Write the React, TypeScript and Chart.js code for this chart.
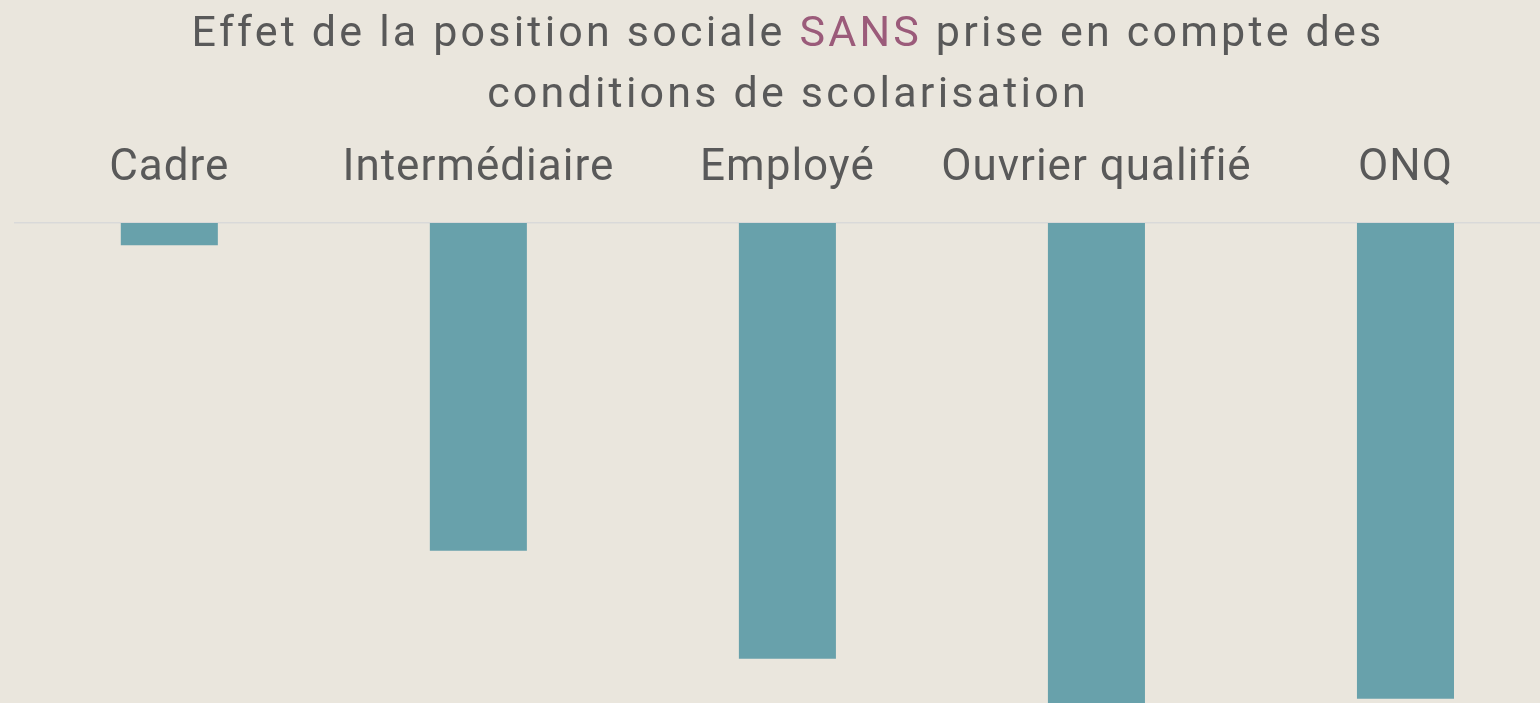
import React, { useEffect, useRef } from "react";
import { Chart, registerables } from "chart.js";

Chart.register(...registerables);

const categories = ["Cadre", "Intermédiaire", "Employé", "Ouvrier qualifié", "ONQ"];
const effectValues = [-0.047, -0.696, -0.925, -1.03, -1.01];
const titleLine1 = ["Effet de la position sociale ", "SANS", " prise en compte des"];
const titleLine2 = "conditions de scolarisation";

const BG = "#EAE6DD";
const TEXT = "#595959";
const ACCENT = "#9B5B7A";
const BAR = "#68A1AB";
const FONT = "Roboto, 'Liberation Sans', sans-serif";

const titlePlugin = {
  id: "customTitle",
  beforeDraw(chart: any) {
    const ctx = chart.ctx;
    ctx.save();
    ctx.fillStyle = BG;
    ctx.fillRect(0, 0, chart.width, chart.height);
    ctx.restore();
    (ctx as any).letterSpacing = "1px";
  },
  afterDraw(chart: any) {
    const ctx = chart.ctx;
    ctx.save();
    (ctx as any).letterSpacing = "3.2px";
    ctx.font = `43px ${FONT}`;
    ctx.textBaseline = "alphabetic";
    ctx.textAlign = "left";
    const cx = 788;
    const widths = titleLine1.map((s) => ctx.measureText(s).width);
    const total = widths.reduce((a, b) => a + b, 0);
    let x = cx - total / 2;
    titleLine1.forEach((s, i) => {
      ctx.fillStyle = i === 1 ? ACCENT : TEXT;
      ctx.fillText(s, x, 46);
      x += widths[i];
    });
    ctx.textAlign = "center";
    ctx.fillStyle = TEXT;
    ctx.fillText(titleLine2, cx, 107);
    ctx.restore();
  },
};

export default function App() {
  const ref = useRef<HTMLCanvasElement>(null);
  useEffect(() => {
    document.body.style.margin = "0";
    const chart = new Chart(ref.current!, {
      type: "bar",
      data: {
        labels: categories,
        datasets: [
          {
            data: effectValues,
            backgroundColor: BAR,
            borderWidth: 0,
            categoryPercentage: 0.314,
            barPercentage: 1,
          },
        ],
      },
      options: {
        animation: false,
        responsive: false,
        layout: { padding: { left: 14.8, right: 0, top: 0, bottom: 0 } },
        plugins: { legend: { display: false }, tooltip: { enabled: false }, title: { display: false } },
        scales: {
          x: {
            position: "top",
            grid: { display: false, drawTicks: false },
            border: { display: true, color: "#D9D9D9", width: 1.5 },
            ticks: {
              font: { family: FONT, size: 44 },
              color: TEXT,
              padding: 28,
              maxRotation: 0,
              autoSkip: false,
            },
            afterFit(scale: any) {
              scale.height = 223;
            },
          },
          y: {
            display: false,
            min: -1.019,
            max: 0,
          },
        },
      },
      plugins: [titlePlugin],
    });
    return () => chart.destroy();
  }, []);
  return (
    <div style={{ position: "fixed", left: 0, top: 0, width: 1540, height: 703, overflow: "hidden", background: BG }}>
      <canvas ref={ref} width={1560} height={703} style={{ display: "block" }} />
    </div>
  );
}
